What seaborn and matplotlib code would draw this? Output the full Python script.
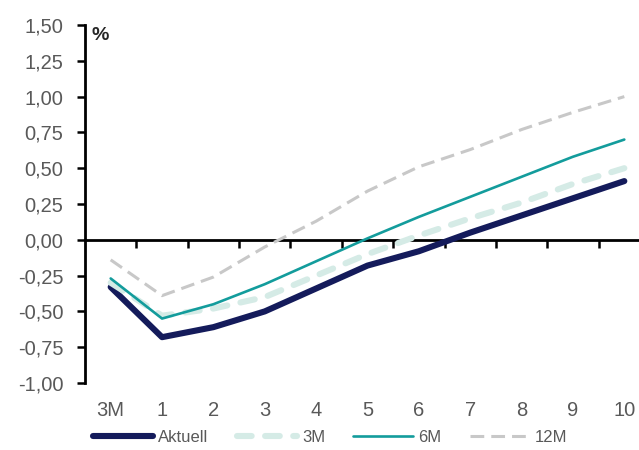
import matplotlib
matplotlib.use("Agg")
import matplotlib.pyplot as plt
import seaborn as sns
import numpy as np
import pandas as pd
from matplotlib.ticker import FixedLocator, FuncFormatter

categories = ['3M', '1', '2', '3', '4', '5', '6', '7', '8', '9', '10']
aktuell = [-0.33, -0.68, -0.61, -0.50, -0.34, -0.18, -0.08, 0.05, 0.17, 0.29, 0.41]
m3 = [-0.30, -0.53, -0.48, -0.40, -0.25, -0.10, 0.03, 0.15, 0.26, 0.39, 0.50]
m6 = [-0.27, -0.55, -0.45, -0.31, -0.15, 0.01, 0.16, 0.30, 0.44, 0.58, 0.70]
m12 = [-0.14, -0.39, -0.26, -0.05, 0.13, 0.34, 0.51, 0.63, 0.77, 0.89, 1.00]
series_names = ['Aktuell', '3M', '6M', '12M']
yticks = [-1.0, -0.75, -0.5, -0.25, 0.0, 0.25, 0.5, 0.75, 1.0, 1.25, 1.5]

sns.set_style("white")
plt.rcParams['font.family'] = ['Liberation Sans', 'DejaVu Sans']

fig = plt.figure(figsize=(6.39, 4.5), dpi=100)
ax = fig.add_axes([85/639, 1-383/450, (650-85)/639, (383-25)/450])

pos = np.arange(len(categories))
styles = {
    'Aktuell': dict(color='#141b5b', lw=4.4, ls='-', solid_capstyle='round'),
    '3M': dict(color='#d5ebe6', lw=4.4, dashes=(2.4, 2.2), dash_capstyle='round'),
    '6M': dict(color='#139c9c', lw=1.9, ls='-', solid_capstyle='round'),
    '12M': dict(color='#c8c8c8', lw=2.2, dashes=(4.5, 2.3)),
}
for name, vals in zip(series_names, [aktuell, m3, m6, m12]):
    sns.lineplot(x=pos, y=vals, ax=ax, label=name, zorder=3, **styles[name])

ax.set_xlim(-0.5, 10.5)
ax.set_ylim(-1.0, 1.5)

for s in ['top', 'right']:
    ax.spines[s].set_visible(False)
ax.spines['bottom'].set_position(('data', 0))
ax.spines['left'].set_linewidth(2.0)
ax.spines['bottom'].set_linewidth(2.0)
ax.spines['left'].set_color('black')
ax.spines['bottom'].set_color('black')
ax.spines['bottom'].set_zorder(2)

ax.yaxis.set_major_locator(FixedLocator(yticks))
ax.yaxis.set_major_formatter(FuncFormatter(lambda v, p: f"{v:.2f}".replace('.', ',')))
ax.tick_params(axis='y', direction='out', length=6, width=1.8, color='black',
               labelsize=14.5, labelcolor='#595959', pad=9.5, left=True)

ax.xaxis.set_major_locator(FixedLocator(pos[:-1] + 0.5))
ax.tick_params(axis='x', direction='out', length=6, width=1.8, color='black',
               labelbottom=False, bottom=True)

sec = ax.secondary_xaxis(0)
sec.set_xticks(pos)
sec.set_xticklabels(categories)
sec.tick_params(axis='x', length=0, pad=13, labelsize=14.5, labelcolor='#595959')
sec.spines['bottom'].set_visible(False)

ax.text(0.012, 0.995, '%', transform=ax.transAxes, fontsize=14, fontweight='bold',
        color='#262626', ha='left', va='top')

ax.set_xlabel('')
ax.set_ylabel('')
ax.grid(False)

leg = ax.legend(loc='center', bbox_to_anchor=(0.517, 1 - 437/450), bbox_transform=fig.transFigure,
                ncol=4, frameon=False, fontsize=12, handlelength=3.6, handletextpad=0.3,
                columnspacing=1.7, borderpad=0, borderaxespad=0)
for t in leg.get_texts():
    t.set_color('#595959')

fig.savefig('out.png', dpi=100)
